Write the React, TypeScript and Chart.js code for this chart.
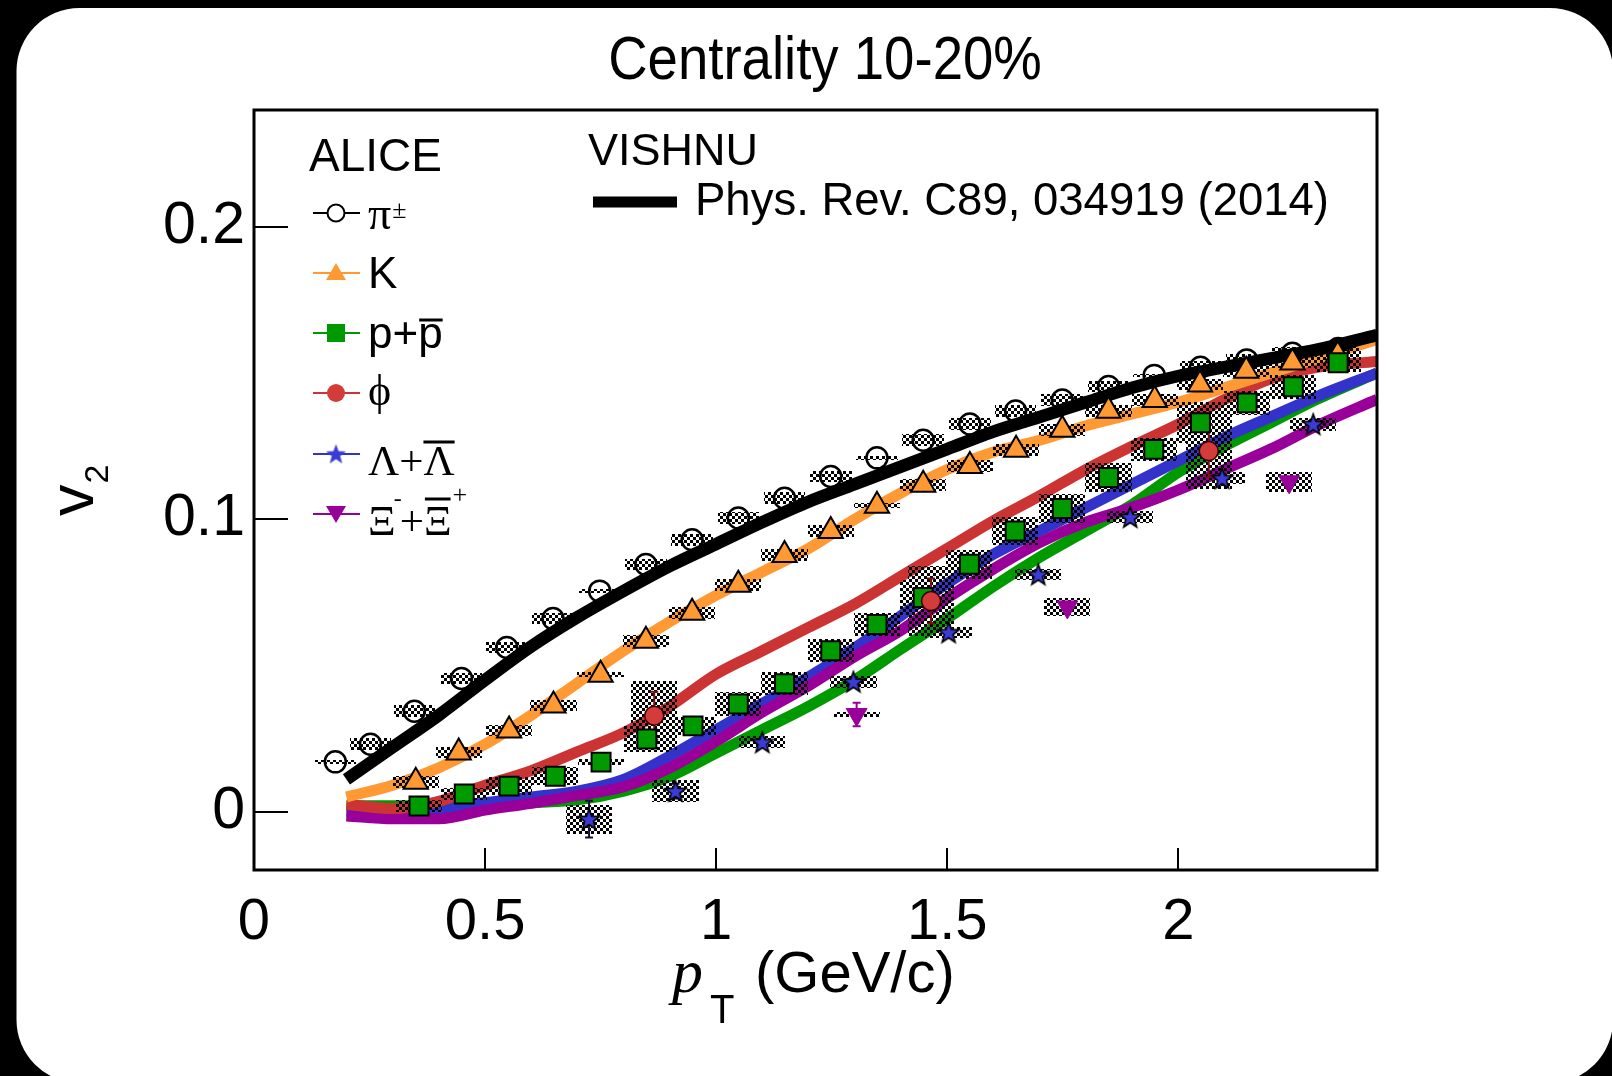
import React, { useEffect, useRef } from "react";
import { Chart, registerables } from "chart.js";

Chart.register(...registerables);

const W = 1612;
const H = 1076;

// ---- axes ----
const xTickValues = [0, 0.5, 1, 1.5, 2];
const yTickValues = [0, 0.1, 0.2];
const xMin = 0;
const xMax = 2.43;
const yMin = -0.02;
const yMax = 0.24;

// ---- ALICE data (pT in GeV/c, v2) ----
const pionPt = [0.176, 0.252, 0.347, 0.449, 0.547, 0.647, 0.748, 0.848, 0.948, 1.048, 1.148, 1.248, 1.348, 1.448, 1.549, 1.648, 1.749, 1.849, 1.948, 2.048, 2.148, 2.247, 2.346];
const pionV2 = [0.017, 0.023, 0.0343, 0.0455, 0.0561, 0.066, 0.0754, 0.0845, 0.093, 0.1004, 0.1072, 0.1146, 0.121, 0.127, 0.1326, 0.137, 0.1408, 0.1454, 0.1492, 0.152, 0.1545, 0.1568, 0.1584];
const pionSys = [0.0006, 0.002, 0.002, 0.002, 0.002, 0.002, 0.0006, 0.002, 0.002, 0.002, 0.002, 0.002, 0.0006, 0.002, 0.002, 0.002, 0.002, 0.002, 0.0006, 0.002, 0.002, 0.002, 0.002];

const kaonPt = [0.35, 0.443, 0.552, 0.648, 0.75, 0.848, 0.948, 1.048, 1.148, 1.248, 1.348, 1.448, 1.549, 1.649, 1.749, 1.849, 1.949, 2.047, 2.147, 2.247, 2.345];
const kaonV2 = [0.0102, 0.0202, 0.0277, 0.0363, 0.0468, 0.0584, 0.068, 0.0776, 0.0878, 0.096, 0.1046, 0.1118, 0.1182, 0.1238, 0.1306, 0.1371, 0.1408, 0.1461, 0.1508, 0.1536, 0.1561];
const kaonSys = [0.002, 0.002, 0.002, 0.002, 0.0008, 0.002, 0.002, 0.002, 0.002, 0.002, 0.0008, 0.002, 0.002, 0.002, 0.002, 0.002, 0.002, 0.002, 0.002, 0.002, 0.002];

const protonPt = [0.357, 0.455, 0.552, 0.652, 0.751, 0.85, 0.95, 1.048, 1.148, 1.248, 1.348, 1.448, 1.548, 1.647, 1.749, 1.849, 1.947, 2.048, 2.149, 2.249, 2.346];
const protonV2 = [0.0019, 0.006, 0.0087, 0.0121, 0.0169, 0.0248, 0.0293, 0.0368, 0.0437, 0.055, 0.064, 0.0732, 0.0846, 0.096, 0.1037, 0.1143, 0.1239, 0.133, 0.1398, 0.1453, 0.1535];
const protonSys = [0.002, 0.002, 0.003, 0.003, 0.001, 0.0043, 0.003, 0.004, 0.004, 0.004, 0.004, 0.006, 0.005, 0.0048, 0.005, 0.005, 0.004, 0.007, 0.004, 0.004, 0.003];

const phiPt = [0.866, 1.465, 2.066];
const phiV2 = [0.0328, 0.072, 0.1233];
const phiSys = [0.0118, 0.012, 0.0128];
const phiErr = [0.0082, 0.0077, 0.0089];

const lambdaPt = [0.725, 0.912, 1.1, 1.297, 1.503, 1.697, 1.896, 2.095, 2.292];
const lambdaV2 = [-0.0026, 0.007, 0.0237, 0.0444, 0.0613, 0.0811, 0.1007, 0.114, 0.1325];
const lambdaSys = [0.005, 0.0037, 0.002, 0.002, 0.002, 0.002, 0.002, 0.002, 0.0023];
const lambdaErr = [0.0063, 0.0025, 0.0015, 0.0015, 0.0015, 0.0015, 0.0015, 0.0015, 0.0015];

const xiPt = [1.304, 1.76, 2.24];
const xiV2 = [0.0332, 0.07, 0.1128];
const xiSys = [0.0008, 0.0032, 0.0035];
const xiErr = [0.004, 0.0012, 0.0012];

// ---- VISHNU hydro curves ----
const modelPt = [0.2, 0.3, 0.4, 0.5, 0.6, 0.7, 0.8, 0.9, 1.0, 1.1, 1.2, 1.3, 1.4, 1.5, 1.6, 1.7, 1.8, 1.9, 2.0, 2.1, 2.2, 2.3, 2.43];
const vishnuPion = [0.011, 0.022, 0.033, 0.045, 0.0565, 0.0665, 0.0755, 0.084, 0.0915, 0.099, 0.106, 0.112, 0.118, 0.124, 0.13, 0.135, 0.14, 0.145, 0.149, 0.152, 0.155, 0.158, 0.163];
const vishnuKaon = [0.005, 0.009, 0.015, 0.023, 0.033, 0.044, 0.055, 0.065, 0.074, 0.082, 0.09, 0.1, 0.109, 0.117, 0.123, 0.127, 0.132, 0.136, 0.14, 0.145, 0.15, 0.155, 0.1615];
const vishnuPhi = [0.0025, 0.001, 0.0035, 0.009, 0.014, 0.0205, 0.027, 0.036, 0.047, 0.055, 0.063, 0.071, 0.0805, 0.09, 0.0995, 0.108, 0.117, 0.125, 0.1325, 0.141, 0.148, 0.152, 0.154];
const vishnuProton = [0.002, 0.002, 0.002, 0.002, 0.003, 0.004, 0.007, 0.012, 0.02, 0.028, 0.036, 0.045, 0.0556, 0.066, 0.077, 0.087, 0.096, 0.105, 0.116, 0.125, 0.133, 0.141, 0.15];
const vishnuLambda = [0.0, -0.0005, 0.001, 0.003, 0.005, 0.007, 0.011, 0.019, 0.028, 0.037, 0.046, 0.056, 0.067, 0.078, 0.088, 0.096, 0.104, 0.112, 0.12, 0.128, 0.135, 0.142, 0.15];
const vishnuXi = [-0.0015, -0.0025, -0.0025, 0.0005, 0.0028, 0.0055, 0.0085, 0.015, 0.024, 0.034, 0.043, 0.053, 0.062, 0.073, 0.083, 0.092, 0.099, 0.104, 0.11, 0.117, 0.124, 0.132, 0.141];

const C_BLACK = "#000000";
const C_ORANGE = "#FF9933";
const C_GREEN = "#009900";
const C_RED = "#CC3333";
const C_PHI = "#D43B3B";
const C_BLUE = "#3333CC";
const C_STAR = "#3B3BD6";
const C_PURPLE = "#990099";

const SANS = "'Liberation Sans', Arial, Helvetica, sans-serif";
const SERIF = "'Liberation Serif', 'Times New Roman', serif";

const pts = (xs: number[], ys: number[]) => xs.map((x, i) => ({ x, y: ys[i] }));

function makeStar(fill: string, stroke: string, outer: number, inner: number, lw: number): HTMLCanvasElement {
  const size = Math.ceil(outer * 2 + lw * 2 + 2);
  const cv = document.createElement("canvas");
  cv.width = size;
  cv.height = size;
  const c = cv.getContext("2d")!;
  const cx = size / 2;
  const cy = size / 2 + outer * 0.08;
  c.beginPath();
  for (let i = 0; i < 10; i++) {
    const r = i % 2 === 0 ? outer : inner;
    const a = -Math.PI / 2 + (i * Math.PI) / 5;
    const px = cx + r * Math.cos(a);
    const py = cy + r * Math.sin(a);
    if (i === 0) c.moveTo(px, py);
    else c.lineTo(px, py);
  }
  c.closePath();
  c.fillStyle = fill;
  c.fill();
  c.lineWidth = lw;
  c.strokeStyle = stroke;
  c.lineJoin = "miter";
  c.stroke();
  return cv;
}

export default function App() {
  const ref = useRef<HTMLCanvasElement | null>(null);

  useEffect(() => {
    const canvas = ref.current;
    if (!canvas) return;
    document.body.style.margin = "0";
    const ctx = canvas.getContext("2d")!;

    const pc = document.createElement("canvas");
    pc.width = 6;
    pc.height = 6;
    const pctx = pc.getContext("2d")!;
    pctx.fillStyle = "#000";
    pctx.fillRect(0, 0, 3, 3);
    pctx.fillRect(3, 3, 3, 3);
    const checker = ctx.createPattern(pc, "repeat") as CanvasPattern;

    const starImg = makeStar(C_STAR, "#000", 11, 4.6, 1.6);
    const starLegend = makeStar(C_STAR, C_STAR, 10, 4.2, 0.5);

    const LAST_LINE = "VISHNU pi";

    const boxSets = [
      { pt: pionPt, v: pionV2, s: pionSys, hw: 0.045 },
      { pt: kaonPt, v: kaonV2, s: kaonSys, hw: 0.05 },
      { pt: protonPt, v: protonV2, s: protonSys, hw: 0.05 },
      { pt: phiPt, v: phiV2, s: phiSys, hw: 0.05 },
      { pt: lambdaPt, v: lambdaV2, s: lambdaSys, hw: 0.05 },
      { pt: xiPt, v: xiV2, s: xiSys, hw: 0.05 },
    ];
    const errSets = [
      { pt: phiPt, v: phiV2, e: phiErr, color: "#7a1010" },
      { pt: lambdaPt, v: lambdaV2, e: lambdaErr, color: "#111133" },
      { pt: xiPt, v: xiV2, e: xiErr, color: C_PURPLE },
    ];

    const plugin = {
      id: "aliceDecor",
      beforeDraw(chart: any) {
        const c = chart.ctx as CanvasRenderingContext2D;
        c.save();
        c.fillStyle = "#000";
        c.fillRect(0, 0, W, H);
        c.fillStyle = "#fff";
        c.beginPath();
        (c as any).roundRect(16.5, 8, 1613 - 16.5, 1083 - 8, 63);
        c.fill();
        c.restore();
      },
      afterDatasetDraw(chart: any, args: any) {
        if (chart.data.datasets[args.index].label !== LAST_LINE) return;
        const c = chart.ctx as CanvasRenderingContext2D;
        const xs = chart.scales.x;
        const ys = chart.scales.y;
        const a = chart.chartArea;
        c.save();
        c.beginPath();
        c.rect(a.left, a.top, a.right - a.left, a.bottom - a.top);
        c.clip();
        c.fillStyle = checker;
        boxSets.forEach((b) => {
          b.pt.forEach((p, i) => {
            const x0 = Math.round(xs.getPixelForValue(p - b.hw));
            const x1 = Math.round(xs.getPixelForValue(p + b.hw));
            const y0 = Math.round(ys.getPixelForValue(b.v[i] + b.s[i]));
            const y1 = Math.round(ys.getPixelForValue(b.v[i] - b.s[i]));
            c.fillRect(x0, y0, x1 - x0, y1 - y0);
          });
        });
        errSets.forEach((e) => {
          c.strokeStyle = e.color;
          c.lineWidth = 2;
          e.pt.forEach((p, i) => {
            const x = xs.getPixelForValue(p);
            const yt = ys.getPixelForValue(e.v[i] + e.e[i]);
            const yb = ys.getPixelForValue(e.v[i] - e.e[i]);
            c.beginPath();
            c.moveTo(x, yt);
            c.lineTo(x, yb);
            c.moveTo(x - 4, yt);
            c.lineTo(x + 4, yt);
            c.moveTo(x - 4, yb);
            c.lineTo(x + 4, yb);
            c.stroke();
          });
        });
        c.restore();
      },
      afterDraw(chart: any) {
        const c = chart.ctx as CanvasRenderingContext2D;
        const a = chart.chartArea;
        const xs = chart.scales.x;
        const ys = chart.scales.y;
        c.save();
        // frame
        c.strokeStyle = "#000";
        c.lineWidth = 3;
        c.strokeRect(a.left, a.top, a.right - a.left, a.bottom - a.top);
        // inward ticks
        c.lineWidth = 2;
        c.beginPath();
        ys.ticks.forEach((t: any) => {
          const y = Math.round(ys.getPixelForValue(t.value));
          c.moveTo(a.left, y);
          c.lineTo(a.left + 34, y);
        });
        xs.ticks.forEach((t: any) => {
          const x = Math.round(xs.getPixelForValue(t.value));
          if (x <= a.left + 2) return;
          c.moveTo(x, a.bottom);
          c.lineTo(x, a.bottom - 22);
        });
        c.stroke();

        c.fillStyle = "#000";
        c.textBaseline = "alphabetic";
        // title
        c.save();
        c.translate(825, 79);
        c.scale(0.88, 1);
        c.font = `62px ${SANS}`;
        c.textAlign = "center";
        c.fillText("Centrality 10-20%", 0, 0);
        c.restore();
        c.textAlign = "left";

        // x axis title
        c.font = `italic 62px ${SERIF}`;
        c.fillText("p", 672, 992);
        c.font = `40px ${SANS}`;
        c.fillText("T", 710, 1023);
        c.font = `58px ${SANS}`;
        c.fillText("(GeV/c)", 755, 992);

        // y axis title
        c.save();
        c.translate(93, 516);
        c.rotate(-Math.PI / 2);
        c.font = `63px ${SANS}`;
        c.fillText("v", 0, 0);
        const vw = c.measureText("v").width;
        c.font = `34px ${SANS}`;
        c.fillText("2", vw + 1, 15);
        c.restore();

        // ALICE legend
        c.font = `46px ${SANS}`;
        c.fillText("ALICE", 309, 171);
        const rows = [213, 273, 333, 393, 454, 514];
        const lineCols = [C_BLACK, C_ORANGE, C_GREEN, C_RED, C_BLUE, C_PURPLE];
        rows.forEach((y, i) => {
          c.strokeStyle = lineCols[i];
          c.lineWidth = 2;
          c.beginPath();
          c.moveTo(313, y);
          c.lineTo(360, y);
          c.stroke();
        });
        const mx = 336;
        // pion
        c.beginPath();
        c.arc(mx, rows[0], 8.5, 0, Math.PI * 2);
        c.fillStyle = "#fff";
        c.fill();
        c.strokeStyle = "#000";
        c.lineWidth = 2;
        c.stroke();
        // kaon
        c.fillStyle = C_ORANGE;
        c.beginPath();
        c.moveTo(mx, rows[1] - 10);
        c.lineTo(mx + 10, rows[1] + 7);
        c.lineTo(mx - 10, rows[1] + 7);
        c.closePath();
        c.fill();
        // proton
        c.fillStyle = C_GREEN;
        c.fillRect(mx - 9, rows[2] - 9, 18, 18);
        // phi
        c.fillStyle = C_PHI;
        c.beginPath();
        c.arc(mx, rows[3], 9, 0, Math.PI * 2);
        c.fill();
        // lambda
        c.drawImage(starLegend, mx - starLegend.width / 2, rows[4] - starLegend.height / 2);
        // xi
        c.fillStyle = C_PURPLE;
        c.beginPath();
        c.moveTo(mx - 10, rows[5] - 8);
        c.lineTo(mx + 10, rows[5] - 8);
        c.lineTo(mx, rows[5] + 9);
        c.closePath();
        c.fill();

        c.fillStyle = "#000";
        c.strokeStyle = "#000";
        const lx = 368;
        // pi
        c.font = `46px ${SERIF}`;
        c.fillText("\u03c0", lx, 229);
        let w = c.measureText("\u03c0").width;
        c.font = `26px ${SERIF}`;
        c.fillText("\u00b1", lx + w + 1, 218);
        // K
        c.font = `44px ${SANS}`;
        c.fillText("K", lx, 288);
        // p + pbar
        c.fillText("p+", lx, 348);
        w = c.measureText("p+").width;
        c.fillText("p", lx + w, 348);
        const pw = c.measureText("p").width;
        c.lineWidth = 3;
        c.beginPath();
        c.moveTo(lx + w + 1, 320);
        c.lineTo(lx + w + pw, 320);
        c.stroke();
        // phi
        c.font = `44px ${SERIF}`;
        c.fillText("\u03d5", lx, 405);
        // Lambda + anti-Lambda
        c.font = `43px ${SERIF}`;
        c.fillText("\u039b+", lx, 475);
        w = c.measureText("\u039b+").width;
        c.fillText("\u039b", lx + w, 475);
        const lw2 = c.measureText("\u039b").width;
        c.beginPath();
        c.moveTo(lx + w, 442);
        c.lineTo(lx + w + lw2, 442);
        c.stroke();
        // Xi- + anti-Xi+
        c.font = `43px ${SERIF}`;
        c.fillText("\u039e", lx, 535);
        let cx = lx + c.measureText("\u039e").width;
        c.font = `24px ${SERIF}`;
        c.fillText("-", cx - 2, 506);
        c.font = `43px ${SERIF}`;
        c.fillText("+", cx + 4, 535);
        cx += 4 + c.measureText("+").width;
        c.fillText("\u039e", cx, 535);
        const xw = c.measureText("\u039e").width;
        c.beginPath();
        c.moveTo(cx + 1, 499);
        c.lineTo(cx + xw - 1, 499);
        c.stroke();
        c.font = `26px ${SERIF}`;
        c.fillText("+", cx + xw + 1, 503);

        // VISHNU legend
        c.font = `45px ${SANS}`;
        c.fillText("VISHNU", 588, 165);
        c.lineWidth = 11;
        c.beginPath();
        c.moveTo(593, 202);
        c.lineTo(677, 202);
        c.stroke();
        c.font = `45.5px ${SANS}`;
        c.fillText("Phys. Rev. C89, 034919 (2014)", 695, 215);
        c.restore();
      },
    };

    const lineDs = (label: string, ys: number[], color: string, width: number, order: number) => ({
      label,
      data: pts(modelPt, ys),
      showLine: true,
      borderColor: color,
      backgroundColor: color,
      borderWidth: width,
      pointRadius: 0,
      pointHoverRadius: 0,
      fill: false,
      cubicInterpolationMode: "monotone" as const,
      borderCapStyle: "butt" as const,
      order,
    });

    const chart = new Chart(ctx, {
      type: "scatter",
      data: {
        datasets: [
          lineDs("VISHNU p", vishnuProton, C_GREEN, 11, 25),
          lineDs("VISHNU Lambda", vishnuLambda, C_BLUE, 11, 24),
          lineDs("VISHNU Xi", vishnuXi, C_PURPLE, 11, 23),
          lineDs("VISHNU phi", vishnuPhi, C_RED, 11, 22),
          lineDs("VISHNU K", vishnuKaon, C_ORANGE, 11, 21),
          lineDs(LAST_LINE, vishnuPion, C_BLACK, 12.5, 20),
          {
            label: "pi",
            data: pts(pionPt, pionV2),
            pointStyle: "circle",
            pointRadius: 10.5,
            pointBackgroundColor: "rgba(0,0,0,0)",
            pointBorderColor: "#000",
            pointBorderWidth: 2.5,
            order: 6,
          },
          {
            label: "K",
            data: pts(kaonPt, kaonV2),
            pointStyle: "triangle",
            pointRadius: 14,
            pointBackgroundColor: C_ORANGE,
            pointBorderColor: "#000",
            pointBorderWidth: 2,
            order: 5,
          },
          {
            label: "p",
            data: pts(protonPt, protonV2),
            pointStyle: "rect",
            pointRadius: 13.4,
            pointBackgroundColor: C_GREEN,
            pointBorderColor: "#000",
            pointBorderWidth: 2,
            order: 4,
          },
          {
            label: "Lambda",
            data: pts(lambdaPt, lambdaV2),
            pointStyle: starImg,
            pointRadius: 11,
            order: 3,
          },
          {
            label: "Xi",
            data: pts(xiPt, xiV2),
            pointStyle: "triangle",
            rotation: 180,
            pointRadius: 12,
            pointBackgroundColor: C_PURPLE,
            pointBorderColor: C_PURPLE,
            pointBorderWidth: 1,
            order: 2,
          },
          {
            label: "phi",
            data: pts(phiPt, phiV2),
            pointStyle: "circle",
            pointRadius: 9.5,
            pointBackgroundColor: C_PHI,
            pointBorderColor: "#3a0000",
            pointBorderWidth: 1.5,
            order: 1,
          },
        ] as any,
      },
      options: {
        responsive: false,
        animation: false,
        devicePixelRatio: 1,
        events: [],
        layout: { padding: { top: 110, right: W - 1377, left: 0, bottom: 0 } },
        plugins: {
          legend: { display: false },
          tooltip: { enabled: false },
          title: { display: false },
        },
        scales: {
          x: {
            type: "linear",
            min: xMin,
            max: xMax,
            grid: { display: false, drawTicks: false },
            border: { display: false },
            afterFit: (s: any) => {
              s.height = H - 870;
            },
            afterBuildTicks: (s: any) => {
              s.ticks = xTickValues.map((v) => ({ value: v }));
            },
            ticks: {
              padding: 18,
              color: "#000",
              font: { family: SANS, size: 58 },
              maxRotation: 0,
              autoSkip: false,
              callback: (v: any) => String(v),
            },
          },
          y: {
            type: "linear",
            min: yMin,
            max: yMax,
            grid: { display: false, drawTicks: false },
            border: { display: false },
            afterFit: (s: any) => {
              s.width = 254;
            },
            afterBuildTicks: (s: any) => {
              s.ticks = yTickValues.map((v) => ({ value: v }));
            },
            ticks: {
              padding: 9,
              color: "#000",
              font: { family: SANS, size: 59 },
              autoSkip: false,
              callback: (v: any) => String(v),
            },
          },
        },
      },
      plugins: [plugin],
    } as any);

    return () => chart.destroy();
  }, []);

  return (
    <div style={{ position: "absolute", left: 0, top: 0, width: W, height: H }}>
      <canvas ref={ref} width={W} height={H} style={{ display: "block", width: W, height: H }} />
    </div>
  );
}
